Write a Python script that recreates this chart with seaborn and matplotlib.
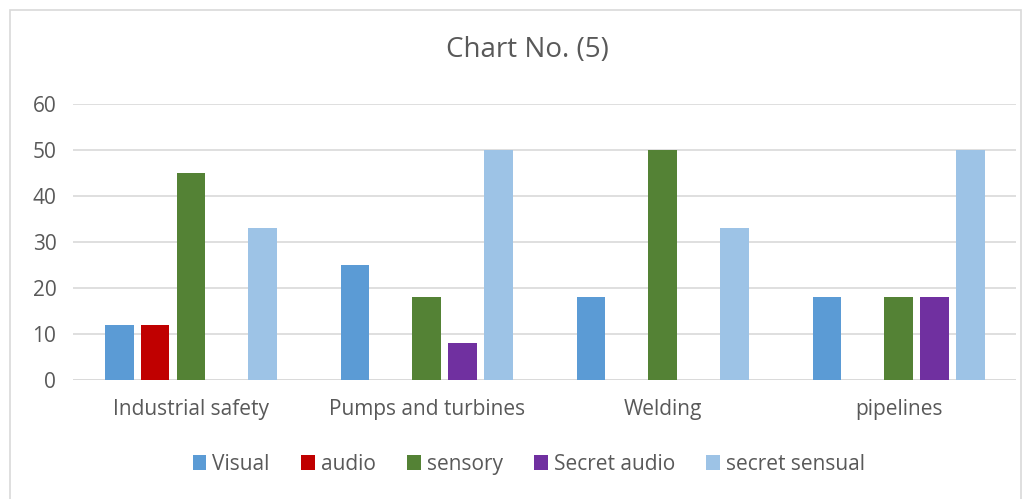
import matplotlib
matplotlib.use("Agg")
import matplotlib.pyplot as plt
import seaborn as sns
import pandas as pd
from matplotlib.patches import Rectangle

categories = ["Industrial safety", "Pumps and turbines", "Welding", "pipelines"]
series_names = ["Visual", "audio", "sensory", "Secret audio", "secret sensual"]
visual = [12, 25, 18, 18]
audio = [12, 0, 0, 0]
sensory = [45, 18, 50, 18]
secret_audio = [0, 8, 0, 18]
secret_sensual = [33, 50, 33, 50]
colors = ["#5B9BD5", "#C00000", "#548235", "#7030A0", "#9DC3E6"]
y_ticks = [0, 10, 20, 30, 40, 50, 60]

values = [visual, audio, sensory, secret_audio, secret_sensual]
rows = []
for name, vals in zip(series_names, values):
    for c, v in zip(categories, vals):
        rows.append({"category": c, "series": name, "value": v})
df = pd.DataFrame(rows)

sns.set_theme(style="white")
plt.rcParams["font.family"] = ["Open Sans", "DejaVu Sans"]
text_color = "#595959"

fig = plt.figure(figsize=(10.33, 4.99), dpi=100)
ax = fig.add_axes([0.0707, 0.2385, 0.9133, 0.5531])

sns.barplot(data=df, x="category", y="value", hue="series", order=categories,
            hue_order=series_names, palette=colors, width=0.76, ax=ax,
            errorbar=None, saturation=1, linewidth=0, legend=True)

for p in ax.patches:
    w = p.get_width()
    if w <= 0:
        continue
    nw = w * 0.8
    p.set_x(p.get_x() + (w - nw) / 2)
    p.set_width(nw)
    p.set_zorder(3)

ax.set_ylim(0, 60)
ax.set_xlim(-0.5, 3.5)
ax.set_yticks(y_ticks)
ax.yaxis.grid(True, color="#D9D9D9", linewidth=1.2, zorder=0)
ax.set_axisbelow(True)
for s in ax.spines.values():
    s.set_visible(False)
ax.axhline(0, color="#D9D9D9", linewidth=1.2, zorder=1)
ax.tick_params(axis="both", length=0, labelsize=15, colors=text_color)
ax.tick_params(axis="y", pad=12)
ax.tick_params(axis="x", pad=14)
ax.set_xlabel("")
ax.set_ylabel("")

handles, labels = ax.get_legend_handles_labels()
ax.get_legend().remove()
fig.legend(handles, labels, loc="center", bbox_to_anchor=(0.512, 0.07), ncol=5,
           frameon=False, fontsize=15, handlelength=0.65, handleheight=0.75,
           handletextpad=0.3, columnspacing=1.5, labelcolor=text_color)

fig.text(0.511, 0.9, "Chart No. (5)", ha="center", va="center", fontsize=20,
         color=text_color)

fig.patches.append(Rectangle((10 / 1033, -0.01), 1011 / 1033, 0.99 - 0.0,
                             transform=fig.transFigure, fill=False,
                             edgecolor="#D9D9D9", linewidth=1.2))

fig.savefig("out.png", dpi=100)
